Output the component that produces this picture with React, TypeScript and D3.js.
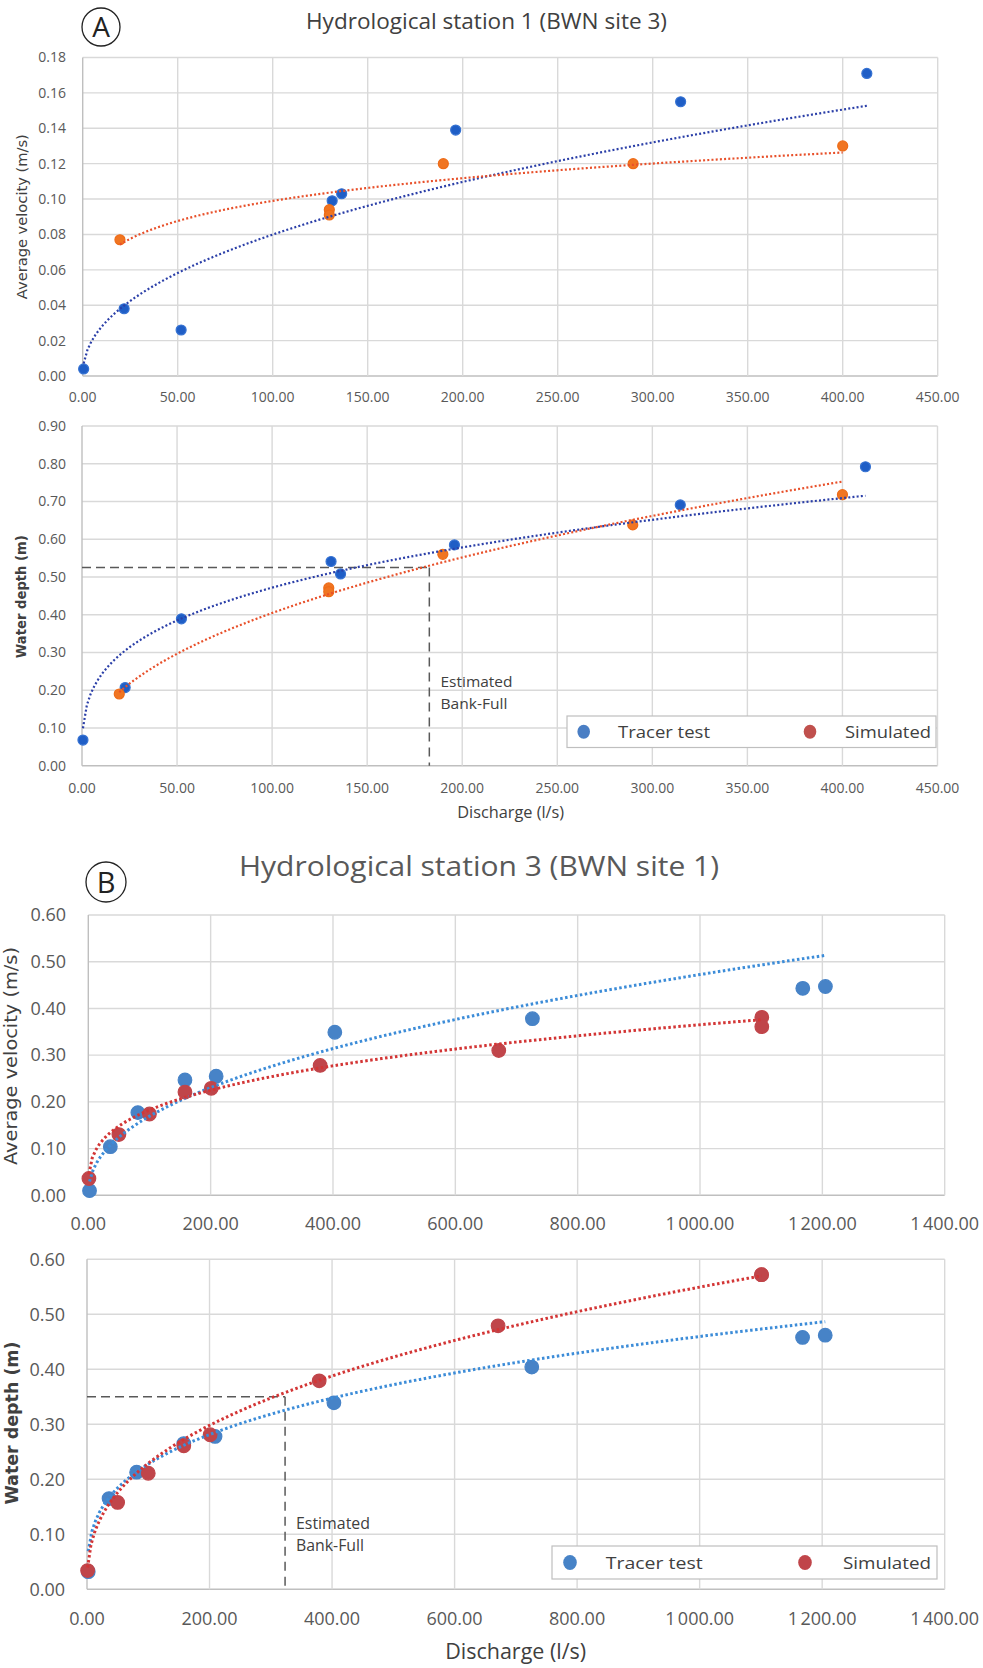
import React from 'react';
import * as d3 from 'd3';

const W = 983;
const H = 1668;

// ---------- Panel A : Hydrological station 1 (BWN site 3) ----------
const aTracerQ = [0.5, 21.8, 51.8, 131.3, 136.3, 196.3, 314.7, 412.7];
const aTracerVel = [0.004, 0.038, 0.026, 0.099, 0.103, 0.139, 0.155, 0.171];
const aTracerDepthQ = [0.5, 22.7, 52.3, 131.0, 136.0, 195.9, 314.7, 412.1];
const aTracerDepth = [0.068, 0.207, 0.389, 0.541, 0.508, 0.585, 0.691, 0.792];
const aSimQ = [19.6, 129.8, 129.8, 189.8, 289.7, 400.0];
const aSimVel = [0.077, 0.094, 0.091, 0.120, 0.120, 0.130];
const aSimDepth = [0.190, 0.471, 0.461, 0.560, 0.638, 0.718];
const aXTicks = [0, 50, 100, 150, 200, 250, 300, 350, 400, 450];
const aVelTicks = [0, 0.02, 0.04, 0.06, 0.08, 0.1, 0.12, 0.14, 0.16, 0.18];
const aDepthTicks = [0, 0.1, 0.2, 0.3, 0.4, 0.5, 0.6, 0.7, 0.8, 0.9];
// power trendlines y = a * x^b, as drawn in the figure
const aVelTracerTrend = [0.00974, 0.457];
const aVelSimTrend = [0.044, 0.176];
const aDepthTracerTrend = [0.1218, 0.294];
const aDepthSimTrend = [0.0514, 0.448];
const aBankFull = [182.7, 0.525];

// ---------- Panel B : Hydrological station 3 (BWN site 1) ----------
const bTracerQ = [2, 36, 81, 158, 209, 403, 726, 1168, 1205];
const bTracerVel = [0.010, 0.104, 0.177, 0.247, 0.255, 0.349, 0.378, 0.443, 0.447];
const bTracerDepth = [0.032, 0.165, 0.213, 0.265, 0.278, 0.339, 0.404, 0.458, 0.462];
const bSimQ = [1, 50, 100, 158, 201, 379, 671, 1101, 1101];
const bSimVel = [0.036, 0.130, 0.174, 0.221, 0.229, 0.278, 0.310, 0.381, 0.361];
const bSimDepth = [0.034, 0.158, 0.211, 0.261, 0.281, 0.379, 0.479, 0.572, 0.572];
const bXTicks = [0, 200, 400, 600, 800, 1000, 1200, 1400];
const bYTicks = [0, 0.1, 0.2, 0.3, 0.4, 0.5, 0.6];
const bVelTracerTrend = [0.0217, 0.446];
const bVelSimTrend = [0.04565, 0.301];
const bDepthTracerTrend = [0.0559, 0.305];
const bDepthSimTrend = [0.0398, 0.38];
const bBankFull = [323.3, 0.35];

const legendLabels = ['Tracer test', 'Simulated'];

const TICK = '#595959';
const GRID = '#d9d9d9';
const AXIS = '#bfbfbf';

const fmtA = d3.format('.2f');
const fmtB = (v: number) => d3.format(',.2f')(v).replace(/,/g, '\u202F');

type Series = { q: number[]; y: number[]; fill: string; stroke: string; r: number };
type Trend = { q: number[]; coef: number[]; color: string; width: number; dash: string };

type PanelProps = {
  left: number; right: number; top: number; bottom: number;
  xMax: number; yMax: number;
  xTicks: number[]; yTicks: number[];
  fmtX: (v: number) => string; fmtY: (v: number) => string;
  tickFont: number; yLabelRight: number; xLabelBaseline: number;
  series: Series[]; trends: Trend[];
  bankFull?: number[];
};

function Panel(p: PanelProps) {
  const x = d3.scaleLinear().domain([0, p.xMax]).range([p.left, p.right]);
  const y = d3.scaleLinear().domain([0, p.yMax]).range([p.bottom, p.top]);
  const line = d3.line<number[]>().x(d => x(d[0])).y(d => y(d[1])).curve(d3.curveLinear);
  return (
    <g>
      {p.yTicks.map((t, i) => (
        <line key={'gy' + i} x1={p.left} x2={p.right} y1={y(t)} y2={y(t)}
          stroke={i === 0 ? AXIS : GRID} strokeWidth={1.4} />
      ))}
      {p.xTicks.map((t, i) => (
        <line key={'gx' + i} x1={x(t)} x2={x(t)} y1={p.top} y2={p.bottom}
          stroke={i === 0 ? AXIS : GRID} strokeWidth={1.4} />
      ))}
      {p.yTicks.map((t, i) => (
        <text key={'ly' + i} x={p.yLabelRight} y={y(t)} dy="0.35em" textAnchor="end"
          fontFamily="Open Sans" fontSize={p.tickFont} fill={TICK}>{p.fmtY(t)}</text>
      ))}
      {p.xTicks.map((t, i) => (
        <text key={'lx' + i} x={x(t)} y={p.xLabelBaseline} textAnchor="middle"
          fontFamily="Open Sans" fontSize={p.tickFont} fill={TICK}>{p.fmtX(t)}</text>
      ))}
      {p.bankFull && (
        <g stroke="#595959" strokeWidth={1.5} fill="none">
          <line x1={p.left} x2={x(p.bankFull[0])} y1={y(p.bankFull[1])} y2={y(p.bankFull[1])} strokeDasharray="9 5" />
          <line x1={x(p.bankFull[0])} x2={x(p.bankFull[0])} y1={y(p.bankFull[1])} y2={p.bottom} strokeDasharray="9 6" />
        </g>
      )}
      {p.series.map((s, si) => (
        <g key={'s' + si}>
          {s.q.map((q, i) => (
            <circle key={i} cx={x(q)} cy={y(s.y[i])} r={s.r} fill={s.fill} stroke={s.stroke} strokeWidth={1.2} />
          ))}
        </g>
      ))}
      {p.trends.map((t, ti) => {
        const lo = d3.min(t.q) as number;
        const hi = d3.max(t.q) as number;
        const pts = d3.range(0, 201).map(k => {
          const q = lo + (hi - lo) * k / 200;
          return [q, t.coef[0] * Math.pow(q, t.coef[1])];
        });
        return (
          <path key={'t' + ti} d={line(pts) || ''} fill="none" stroke={t.color}
            strokeWidth={t.width} strokeDasharray={t.dash} />
        );
      })}
    </g>
  );
}

function Legend({ x, y, w, h, dotR, items }: { x: number; y: number; w: number; h: number; dotR: number; items: { dx: number; tx: number; tl: number; color: string; label: string }[] }) {
  return (
    <g>
      <rect x={x} y={y} width={w} height={h} fill="#fff" stroke="#bfbfbf" strokeWidth={1.2} />
      {items.map((it, i) => (
        <g key={i}>
          <ellipse cx={it.dx} cy={y + h / 2} rx={dotR} ry={dotR + 0.6} fill={it.color} />
          <text x={it.tx} y={y + h / 2} dy="0.36em" fontFamily="Open Sans" fontSize={17}
            fill="#404040" textLength={it.tl} lengthAdjust="spacingAndGlyphs">{it.label}</text>
        </g>
      ))}
    </g>
  );
}

export default function App() {
  const aBlue = '#1F5EC6', aBlueS = '#3672D2';
  const aOr = '#F07522', aOrS = '#EE6C18';
  const aBlueT = '#2B3FA8', aOrT = '#E8502A';
  const bBlue = '#4783C7', bRed = '#C0454A';
  const bBlueT = '#3C8CD8', bRedT = '#D33535';
  return (
    <svg width={W} height={H} style={{ position: 'absolute', left: 0, top: 0, background: '#fff' }}>
      <rect x={0} y={0} width={W} height={H} fill="#fff" />
      {/* ---- Panel A header ---- */}
      <circle cx={101} cy={27} r={19} fill="none" stroke="#222" strokeWidth={1.3} />
      <text x={101} y={37} textAnchor="middle" fontFamily="Open Sans" fontSize={28} fill="#222">A</text>
      <text x={486.5} y={28.5} textAnchor="middle" fontFamily="Open Sans" fontSize={22} fill="#404040"
        textLength={361} lengthAdjust="spacingAndGlyphs">Hydrological station 1 (BWN site 3)</text>

      <Panel left={82.7} right={937.7} top={57.5} bottom={376} xMax={450} yMax={0.18}
        xTicks={aXTicks} yTicks={aVelTicks} fmtX={fmtA} fmtY={fmtA}
        tickFont={14} yLabelRight={66} xLabelBaseline={402}
        series={[
          { q: aTracerQ, y: aTracerVel, fill: aBlue, stroke: aBlueS, r: 5 },
          { q: aSimQ, y: aSimVel, fill: aOr, stroke: aOrS, r: 5 },
        ]}
        trends={[
          { q: aTracerQ, coef: aVelTracerTrend, color: aBlueT, width: 2.2, dash: '2 2.2' },
          { q: aSimQ, coef: aVelSimTrend, color: aOrT, width: 2.2, dash: '2 2.2' },
        ]} />
      <text transform="translate(27,216.7) rotate(-90)" textAnchor="middle" fontFamily="DejaVu Sans"
        fontSize={14} fill="#404040" textLength={165} lengthAdjust="spacingAndGlyphs">Average velocity (m/s)</text>

      <Panel left={82} right={937.5} top={426} bottom={765.7} xMax={450} yMax={0.9}
        xTicks={aXTicks} yTicks={aDepthTicks} fmtX={fmtA} fmtY={fmtA}
        tickFont={14} yLabelRight={66} xLabelBaseline={793}
        bankFull={aBankFull}
        series={[
          { q: aTracerDepthQ, y: aTracerDepth, fill: aBlue, stroke: aBlueS, r: 5 },
          { q: aSimQ, y: aSimDepth, fill: aOr, stroke: aOrS, r: 5 },
        ]}
        trends={[
          { q: aTracerDepthQ, coef: aDepthTracerTrend, color: aBlueT, width: 2.2, dash: '2 2.2' },
          { q: aSimQ, coef: aDepthSimTrend, color: aOrT, width: 2.2, dash: '2 2.2' },
        ]} />
      <text transform="translate(26,596.7) rotate(-90)" textAnchor="middle" fontFamily="DejaVu Sans"
        fontWeight="bold" fontSize={14} fill="#404040" textLength={123} lengthAdjust="spacingAndGlyphs">Water depth (m)</text>
      <text x={440.5} y={687} fontFamily="Open Sans" fontSize={15} fill="#404040" textLength={72} lengthAdjust="spacingAndGlyphs">Estimated</text>
      <text x={440.5} y={709} fontFamily="Open Sans" fontSize={15} fill="#404040" textLength={67} lengthAdjust="spacingAndGlyphs">Bank-Full</text>
      <Legend x={567} y={716} w={369} h={31.5} dotR={6.3} items={[
        { dx: 583.7, tx: 618, tl: 92, color: '#4A7EC4', label: legendLabels[0] },
        { dx: 810, tx: 845, tl: 86, color: '#C0504D', label: legendLabels[1] },
      ]} />
      <text x={510.7} y={818} textAnchor="middle" fontFamily="Open Sans" fontSize={16} fill="#404040"
        textLength={107} lengthAdjust="spacingAndGlyphs">Discharge (l/s)</text>

      {/* ---- Panel B header ---- */}
      <circle cx={106} cy={882} r={20} fill="none" stroke="#222" strokeWidth={1.3} />
      <text x={106} y={892.5} textAnchor="middle" fontFamily="Open Sans" fontSize={29} fill="#222">B</text>
      <text x={479} y={876} textAnchor="middle" fontFamily="Open Sans" fontSize={27} fill="#595959"
        textLength={480} lengthAdjust="spacingAndGlyphs">Hydrological station 3 (BWN site 1)</text>

      <Panel left={88.3} right={944.7} top={915} bottom={1195.3} xMax={1400} yMax={0.6}
        xTicks={bXTicks} yTicks={bYTicks} fmtX={fmtB} fmtY={fmtA}
        tickFont={18} yLabelRight={66} xLabelBaseline={1229.5}
        series={[
          { q: bTracerQ, y: bTracerVel, fill: bBlue, stroke: bBlue, r: 6.8 },
          { q: bSimQ, y: bSimVel, fill: bRed, stroke: bRed, r: 6.8 },
        ]}
        trends={[
          { q: bTracerQ, coef: bVelTracerTrend, color: bBlueT, width: 3, dash: '2.5 2.5' },
          { q: bSimQ, coef: bVelSimTrend, color: bRedT, width: 3, dash: '2.5 2.5' },
        ]} />
      <text transform="translate(17,1056) rotate(-90)" textAnchor="middle" fontFamily="DejaVu Sans"
        fontSize={17} fill="#404040" textLength={218} lengthAdjust="spacingAndGlyphs">Average velocity (m/s)</text>

      <Panel left={87} right={944.7} top={1259.3} bottom={1589.3} xMax={1400} yMax={0.6}
        xTicks={bXTicks} yTicks={bYTicks} fmtX={fmtB} fmtY={fmtA}
        tickFont={18} yLabelRight={65} xLabelBaseline={1625}
        bankFull={bBankFull}
        series={[
          { q: bTracerQ, y: bTracerDepth, fill: bBlue, stroke: bBlue, r: 6.8 },
          { q: bSimQ, y: bSimDepth, fill: bRed, stroke: bRed, r: 6.8 },
        ]}
        trends={[
          { q: bTracerQ, coef: bDepthTracerTrend, color: bBlueT, width: 3, dash: '2.5 2.5' },
          { q: bSimQ, coef: bDepthSimTrend, color: bRedT, width: 3, dash: '2.5 2.5' },
        ]} />
      <text transform="translate(18,1423) rotate(-90)" textAnchor="middle" fontFamily="DejaVu Sans"
        fontWeight="bold" fontSize={17} fill="#404040" textLength={163} lengthAdjust="spacingAndGlyphs">Water depth (m)</text>
      <text x={296} y={1529} fontFamily="Open Sans" fontSize={16} fill="#404040" textLength={74} lengthAdjust="spacingAndGlyphs">Estimated</text>
      <text x={296} y={1551} fontFamily="Open Sans" fontSize={16} fill="#404040" textLength={68} lengthAdjust="spacingAndGlyphs">Bank-Full</text>
      <Legend x={552} y={1546} w={385} h={33} dotR={6.8} items={[
        { dx: 570, tx: 605.7, tl: 97, color: '#4783C7', label: legendLabels[0] },
        { dx: 805, tx: 843, tl: 88, color: '#C0454A', label: legendLabels[1] },
      ]} />
      <text x={515.7} y={1659} textAnchor="middle" fontFamily="Open Sans" fontSize={21} fill="#404040"
        textLength={141} lengthAdjust="spacingAndGlyphs">Discharge (l/s)</text>
    </svg>
  );
}
